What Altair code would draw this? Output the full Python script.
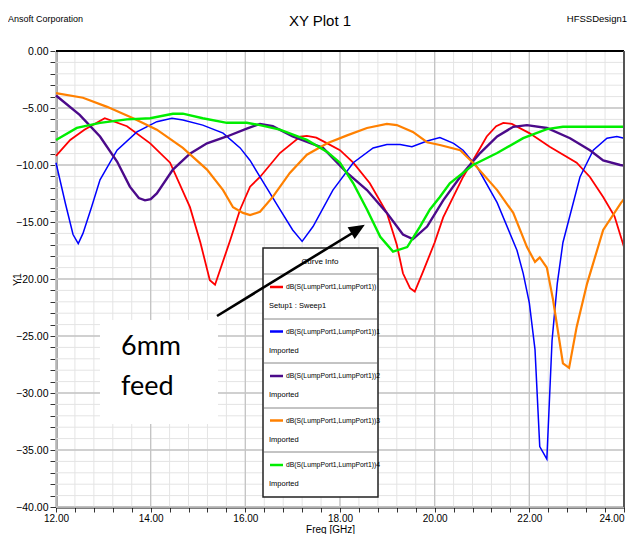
import altair as alt
import pandas as pd

W, H = 568, 456
FONT = "Liberation Sans, Arial, sans-serif"

# ---------------- data ----------------
red_f = [12.0, 12.3, 12.6, 13.03, 13.5, 13.99, 14.41, 14.83, 15.05, 15.25, 15.36, 15.5, 15.68,
         15.89, 16.1, 16.31, 16.73, 17.16, 17.3, 17.5, 17.73, 18.0, 18.28, 18.63, 18.99, 19.2,
         19.33, 19.48, 19.58, 19.75, 20.0, 20.18, 20.6, 20.9, 21.1, 21.3, 21.45, 21.63, 22.0,
         22.43, 23.0, 23.28, 23.56, 23.8, 24.0]
red_db = [-9.2, -7.8, -6.9, -5.9, -6.6, -8.1, -9.8, -13.7, -16.8, -20.1, -20.5, -18.8, -16.6,
          -13.9, -11.9, -11.05, -8.95, -7.5, -7.45, -7.6, -8.1, -8.7, -9.8, -11.6, -14.2, -17.0,
          -19.5, -20.8, -21.1, -19.4, -16.8, -14.6, -11.05, -8.95, -7.5, -6.6, -6.3, -6.4, -7.2,
          -8.4, -9.8, -11.05, -12.8, -14.5, -17.2]

blue_f = [12.0, 12.2, 12.36, 12.47, 12.57, 12.75, 12.93, 13.29, 13.71, 14.13, 14.45, 14.68, 15.1,
          15.53, 15.89, 16.1, 16.31, 16.73, 17.0, 17.2, 17.43, 17.85, 18.28, 18.7, 18.99, 19.27,
          19.52, 19.84, 20.11, 20.4, 20.6, 20.9, 21.32, 21.74, 21.87, 22.0, 22.12, 22.22, 22.37,
          22.48, 22.59, 22.71, 23.07, 23.35, 23.64, 23.85, 24.0]
blue_db = [-9.8, -13.4, -16.1, -16.9, -16.0, -13.7, -11.3, -8.7, -7.1, -6.2, -5.9, -6.05, -6.5,
           -7.2, -8.5, -9.6, -11.05, -13.9, -15.7, -16.7, -15.4, -12.2, -9.8, -8.5, -8.2, -8.2,
           -8.4, -7.9, -7.6, -8.1, -8.7, -10.2, -13.3, -17.5, -19.5, -22.1, -26.2, -34.7, -35.8,
           -25.4, -20.4, -16.8, -11.05, -8.7, -7.65, -7.5, -7.65]

purple_f = [12.0, 12.5, 12.93, 13.29, 13.56, 13.75, 13.88, 14.0, 14.13, 14.47, 14.83, 15.19,
            15.61, 16.03, 16.31, 16.58, 17.0, 17.64, 18.15, 18.57, 18.99, 19.33, 19.54, 19.84,
            20.18, 20.6, 20.96, 21.32, 21.66, 21.95, 22.37, 22.86, 23.28, 23.56, 23.92, 24.0]
purple_db = [-3.9, -5.6, -7.5, -9.7, -11.9, -12.9, -13.1, -13.0, -12.5, -10.4, -9.0, -8.1,
             -7.5, -6.8, -6.4, -6.6, -7.5, -8.5, -10.7, -12.2, -14.2, -16.1, -16.5, -15.4,
             -13.1, -10.7, -8.95, -7.5, -6.65, -6.5, -6.75, -7.65, -8.7, -9.6, -10.0, -10.05]

orange_f = [12.0, 12.57, 13.08, 13.63, 14.13, 14.68, 15.19, 15.53, 15.74, 15.95, 16.1, 16.31,
            16.58, 16.94, 17.3, 17.73, 18.15, 18.57, 18.99, 19.2, 19.54, 19.84, 20.11, 20.54,
            20.81, 21.32, 21.66, 21.95, 22.12, 22.22, 22.37, 22.5, 22.71, 22.84, 23.0, 23.22,
            23.43, 23.56, 23.94, 24.0]
orange_db = [-3.7, -4.1, -4.9, -5.9, -6.9, -8.5, -10.4, -12.2, -13.7, -14.2, -14.4, -14.1,
             -12.8, -10.7, -9.1, -8.1, -7.4, -6.75, -6.4, -6.5, -7.1, -8.0, -8.25, -8.7,
             -9.8, -12.2, -14.2, -17.2, -18.5, -18.1, -19.0, -21.8, -27.4, -27.8, -24.2, -20.4,
             -17.5, -15.7, -13.3, -13.0]

green_f = [12.0, 12.44, 12.93, 13.5, 13.99, 14.47, 14.68, 15.1, 15.61, 16.03, 16.31, 16.73,
           17.3, 17.73, 18.0, 18.28, 18.57, 18.85, 19.12, 19.42, 19.69, 19.9, 20.11, 20.32,
           20.81, 21.32, 21.87, 22.37, 22.71, 23.3, 24.0]
green_db = [-7.8, -6.75, -6.3, -6.0, -5.9, -5.5, -5.5, -5.9, -6.3, -6.3, -6.5, -6.9,
            -7.8, -8.85, -9.8, -11.6, -13.9, -16.3, -17.6, -17.2, -15.4, -13.9, -12.8, -11.6,
            -10.0, -8.95, -7.65, -6.85, -6.65, -6.65, -6.65]

legend_line1 = ["dB(S(LumpPort1,LumpPort1))", "dB(S(LumpPort1,LumpPort1))1",
                "dB(S(LumpPort1,LumpPort1))2", "dB(S(LumpPort1,LumpPort1))3",
                "dB(S(LumpPort1,LumpPort1))4"]
legend_line2 = ["Setup1 : Sweep1", "Imported", "Imported", "Imported", "Imported"]

x_ticks = [round(12 + 0.4 * i, 1) for i in range(31)]
y_ticks = list(range(-40, 1))
x_major = [12, 14, 16, 18, 20, 22, 24]
y_major = [-40, -35, -30, -25, -20, -15, -10, -5, 0]

# ---------------- styles ----------------
colors = ["#ff0000", "#0000ff", "#4b0a8a", "#ff8000", "#00ee00"]
widths = [1.8, 1.5, 2.4, 2.2, 2.4]
curves = [(red_f, red_db), (blue_f, blue_db), (purple_f, purple_db),
          (orange_f, orange_db), (green_f, green_db)]

xs = alt.Scale(domain=[12, 24], nice=False, zero=False)
ys = alt.Scale(domain=[-40, 0], nice=False, zero=False)
dummy = alt.Data(values=[{}])

x_axis = alt.Axis(values=x_ticks,
                  labelExpr="round(datum.value*10) % 20 == 0 ? format(datum.value, '.2f') : ''",
                  labelAlign={"condition": {"test": "datum.value > 23.9", "value": "right"},
                              "value": "center"},
                  tickSize=5, tickColor="#333", domainColor="#000", domainWidth=2, grid=False,
                  labelFont=FONT, labelFontSize=10, labelColor="#000", labelPadding=1,
                  labelOverlap=False, labelFlush=False, labelBound=False,
                  title="Freq [GHz]", titleFont=FONT, titleFontSize=10, titleFontWeight="normal",
                  titleColor="#000", titleX=274, titleY=22, titleBaseline="middle")
y_axis = alt.Axis(values=y_ticks,
                  labelExpr="datum.value % 5 == 0 ? format(datum.value, '.2f') : ''",
                  tickSize=6, tickColor="#333", domainColor="#555", domainWidth=2, grid=False,
                  labelFont=FONT, labelFontSize=10.5, labelColor="#000", labelPadding=2,
                  labelOverlap=False, labelFlush=False, labelBound=False,
                  title="Y1", titleFont=FONT, titleFontSize=10.5, titleFontWeight="normal",
                  titleColor="#000", titleX=-39, titleY=228, titleBaseline="middle")

X = lambda field: alt.X(field, scale=xs, axis=x_axis)
Y = lambda field: alt.Y(field, scale=ys, axis=y_axis)

layers = []

# grid
layers.append(alt.Chart(pd.DataFrame({"f": x_ticks})).mark_rule(color="#e4e4e4", strokeWidth=1)
              .encode(x=X("f:Q")))
layers.append(alt.Chart(pd.DataFrame({"db": y_ticks})).mark_rule(color="#e4e4e4", strokeWidth=1)
              .encode(y=Y("db:Q")))
layers.append(alt.Chart(pd.DataFrame({"f": x_major})).mark_rule(color="#c4c4c4", strokeWidth=1.3)
              .encode(x=X("f:Q")))
layers.append(alt.Chart(pd.DataFrame({"db": y_major})).mark_rule(color="#c4c4c4", strokeWidth=1.3)
              .encode(y=Y("db:Q")))

# curves
for (fs, dbs), c, w in zip(curves, colors, widths):
    layers.append(
        alt.Chart(pd.DataFrame({"f": fs, "db": dbs})).mark_line(color=c, strokeWidth=w)
        .encode(x=X("f:Q"), y=Y("db:Q"))
    )

# frame top / right
layers.append(alt.Chart(dummy).mark_rule(color="#000", strokeWidth=2)
              .encode(x=alt.value(0), x2=alt.value(W), y=alt.value(0)))
layers.append(alt.Chart(dummy).mark_rule(color="#555", strokeWidth=2)
              .encode(x=alt.value(W), y=alt.value(0), y2=alt.value(H)))

# header texts
layers.append(alt.Chart(dummy).mark_text(text="Ansoft Corporation", font=FONT, fontSize=9,
                                         align="left", baseline="middle", color="#000")
              .encode(x=alt.value(-48), y=alt.value(-32)))
layers.append(alt.Chart(dummy).mark_text(text="XY Plot 1", font=FONT, fontSize=15,
                                         align="center", baseline="middle", color="#000")
              .encode(x=alt.value(264), y=alt.value(-30)))
layers.append(alt.Chart(dummy).mark_text(text="HFSSDesign1", font=FONT, fontSize=9.5,
                                         align="right", baseline="middle", color="#000")
              .encode(x=alt.value(571), y=alt.value(-32)))

# legend box ("Curve Info")
LX0, LX1, LY0, LY1 = 207, 322, 197, 446
layers.append(alt.Chart(dummy).mark_rect(fill="white", stroke="#222", strokeWidth=1.5)
              .encode(x=alt.value(LX0), x2=alt.value(LX1), y=alt.value(LY0), y2=alt.value(LY1)))
layers.append(alt.Chart(dummy).mark_text(text="Curve Info", font=FONT, fontSize=8,
                                         align="center", baseline="middle", color="#000")
              .encode(x=alt.value(264), y=alt.value(211)))
for sep in [223, 268, 312, 357, 401]:
    layers.append(alt.Chart(dummy).mark_rule(color="#888", strokeWidth=1)
                  .encode(x=alt.value(LX0 + 1), x2=alt.value(LX1 - 1), y=alt.value(sep)))
for i in range(5):
    yl = 236 + 44.5 * i
    layers.append(alt.Chart(dummy).mark_rule(color=colors[i], strokeWidth=2.5)
                  .encode(x=alt.value(214), x2=alt.value(227), y=alt.value(yl)))
    layers.append(alt.Chart(dummy).mark_text(text=legend_line1[i], font=FONT, fontSize=6.8,
                                             align="left", baseline="middle", color="#000")
                  .encode(x=alt.value(230), y=alt.value(yl)))
    layers.append(alt.Chart(dummy).mark_text(text=legend_line2[i], font=FONT, fontSize=7.5,
                                             align="left", baseline="middle", color="#000")
                  .encode(x=alt.value(213), y=alt.value(yl + 19)))

# "6mm feed" annotation box
layers.append(alt.Chart(dummy).mark_rect(fill="white", strokeWidth=0)
              .encode(x=alt.value(44), x2=alt.value(162), y=alt.value(269), y2=alt.value(373)))
layers.append(alt.Chart(dummy).mark_text(text="6mm", font="Lato", fontSize=27,
                                         align="left", baseline="alphabetic", color="#000")
              .encode(x=alt.value(65), y=alt.value(304)))
layers.append(alt.Chart(dummy).mark_text(text="feed", font="Lato", fontSize=27,
                                         align="left", baseline="alphabetic", color="#000")
              .encode(x=alt.value(65), y=alt.value(344)))

# arrow
layers.append(alt.Chart(dummy).mark_rule(color="#000", strokeWidth=2.6)
              .encode(x=alt.value(161), x2=alt.value(303), y=alt.value(265), y2=alt.value(178)))
layers.append(alt.Chart(dummy).mark_point(shape="M0,-1L-0.85,1L0.85,1Z", filled=True,
                                          color="#000", size=256, opacity=1, angle=58.7)
              .encode(x=alt.value(302), y=alt.value(178)))

chart = alt.layer(*layers).properties(
    width=W, height=H,
    autosize=alt.AutoSizeParams(type="none"),
    padding={"left": 48, "top": 43, "right": 4, "bottom": 27},
    background="white",
).configure_view(stroke=None)

chart.save("out.html", embed_options={"renderer": "svg", "actions": False})
